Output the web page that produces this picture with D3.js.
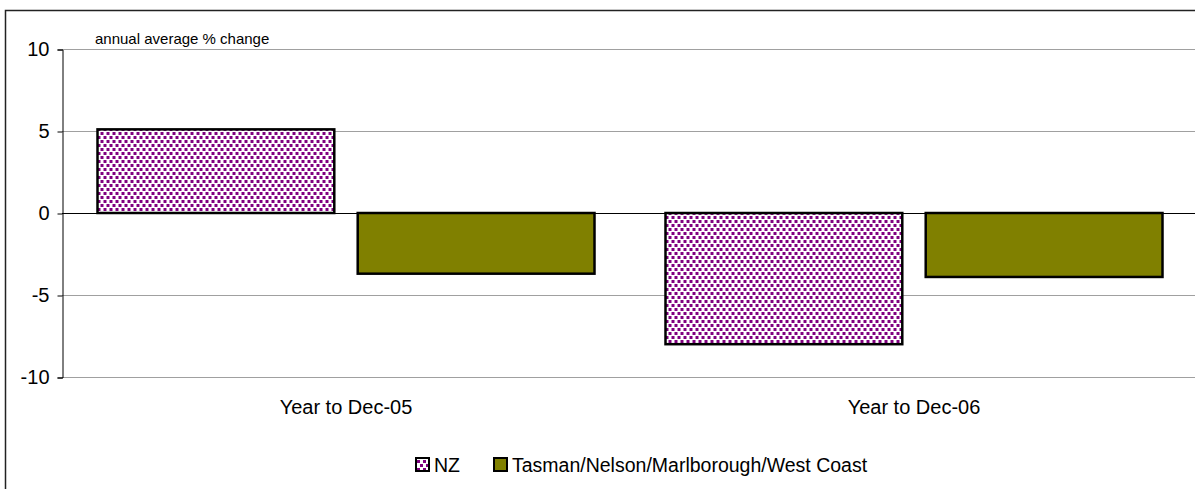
<!DOCTYPE html>
<html>
<head>
<meta charset="utf-8">
<script src="https://cdn.jsdelivr.net/npm/d3@7"></script>
<style>
  body { margin: 0; background: #fff; }
  svg { display: block; font-family: Arial, "Liberation Sans", sans-serif; }
</style>
</head>
<body>
<svg id="chart" width="1195" height="489"></svg>
<script>
const categories = ['Year to Dec-05', 'Year to Dec-06'];
const seriesNames = ['NZ', 'Tasman/Nelson/Marlborough/West Coast'];
const nzValues = [5.1, -8.0];
const tasmanValues = [-3.7, -3.9];
const yTicks = [-10, -5, 0, 5, 10];

const plot = { left: 62, right: 1198, top: 49, bottom: 377 };

const svg = d3.select('#chart');

// pattern for the NZ bars (purple squares on white)
const defs = svg.append('defs');
const pat = defs.append('pattern')
    .attr('id', 'dots')
    .attr('patternUnits', 'userSpaceOnUse')
    .attr('width', 6)
    .attr('height', 8);
pat.append('rect').attr('width', 6).attr('height', 8).attr('fill', '#fff');
pat.append('rect').attr('x', 0).attr('y', 0).attr('width', 3).attr('height', 3).attr('fill', '#800080').attr('shape-rendering', 'crispEdges');
pat.append('rect').attr('x', 3).attr('y', 4).attr('width', 3).attr('height', 3).attr('fill', '#800080').attr('shape-rendering', 'crispEdges');

const fills = ['url(#dots)', '#808000'];

// outer frame
svg.append('rect')
    .attr('x', 5.5).attr('y', 10.5)
    .attr('width', 1200).attr('height', 500)
    .attr('fill', 'none')
    .attr('stroke', '#222')
    .attr('stroke-width', 1.5);

const x0 = d3.scaleBand()
    .domain(categories)
    .range([plot.left, plot.right])
    .paddingInner(0.125)
    .paddingOuter(0.0625);

const x1 = d3.scaleBand()
    .domain(seriesNames)
    .range([0, x0.bandwidth()])
    .paddingInner(0.09);

const y = d3.scaleLinear()
    .domain([-10, 10])
    .range([plot.bottom, plot.top]);

// gridlines
svg.append('g')
    .selectAll('line')
    .data(yTicks.filter(d => d !== 0))
    .join('line')
    .attr('x1', plot.left).attr('x2', plot.right)
    .attr('y1', d => Math.round(y(d)) + 0.5)
    .attr('y2', d => Math.round(y(d)) + 0.5)
    .attr('stroke', '#a0a0a0')
    .attr('stroke-width', 1);

// y axis
const yAxis = svg.append('g')
    .attr('transform', `translate(${plot.left + 0.5},0.5)`)
    .call(d3.axisLeft(y).tickValues(yTicks).tickSize(5).tickPadding(8).tickFormat(d => String(d)));
yAxis.select('.domain').attr('stroke', '#000');
yAxis.selectAll('.tick line').attr('stroke', '#000');
yAxis.selectAll('.tick text')
    .attr('font-size', 20)
    .attr('font-family', 'Arial, "Liberation Sans", sans-serif')
    .attr('fill', '#000');

// bars
const rows = [nzValues, tasmanValues];
const groups = svg.append('g')
    .selectAll('g')
    .data(categories)
    .join('g')
    .attr('transform', d => `translate(${x0(d)},0)`);

groups.selectAll('rect')
    .data((c, ci) => seriesNames.map((s, si) => ({ s, si, v: rows[si][ci] })))
    .join('rect')
    .attr('x', d => x1(d.s))
    .attr('width', x1.bandwidth())
    .attr('y', d => y(Math.max(0, d.v)))
    .attr('height', d => Math.abs(y(d.v) - y(0)))
    .attr('fill', d => fills[d.si])
    .attr('stroke', '#000')
    .attr('stroke-width', 2.5);

// zero line
svg.append('line')
    .attr('x1', plot.left).attr('x2', plot.right)
    .attr('y1', Math.round(y(0)) + 0.5).attr('y2', Math.round(y(0)) + 0.5)
    .attr('stroke', '#000');

// category labels
svg.append('g')
    .selectAll('text')
    .data(categories)
    .join('text')
    .attr('x', d => x0(d) + x0.bandwidth() / 2)
    .attr('y', 414)
    .attr('text-anchor', 'middle')
    .attr('font-size', 20)
    .text(d => d);

// unit label
svg.append('text')
    .attr('x', 95).attr('y', 44)
    .attr('font-size', 15)
    .text('annual average % change');

// legend
const legend = svg.append('g');
const legX = [415, 493];
legend.selectAll('rect')
    .data(seriesNames)
    .join('rect')
    .attr('x', (d, i) => legX[i] + 1)
    .attr('y', 458)
    .attr('width', 13).attr('height', 13)
    .attr('fill', (d, i) => fills[i])
    .attr('stroke', '#000')
    .attr('stroke-width', 2);
legend.selectAll('text')
    .data(seriesNames)
    .join('text')
    .attr('x', (d, i) => legX[i] + 19)
    .attr('y', 472)
    .attr('font-size', 19.5)
    .text(d => d);
</script>
</body>
</html>
